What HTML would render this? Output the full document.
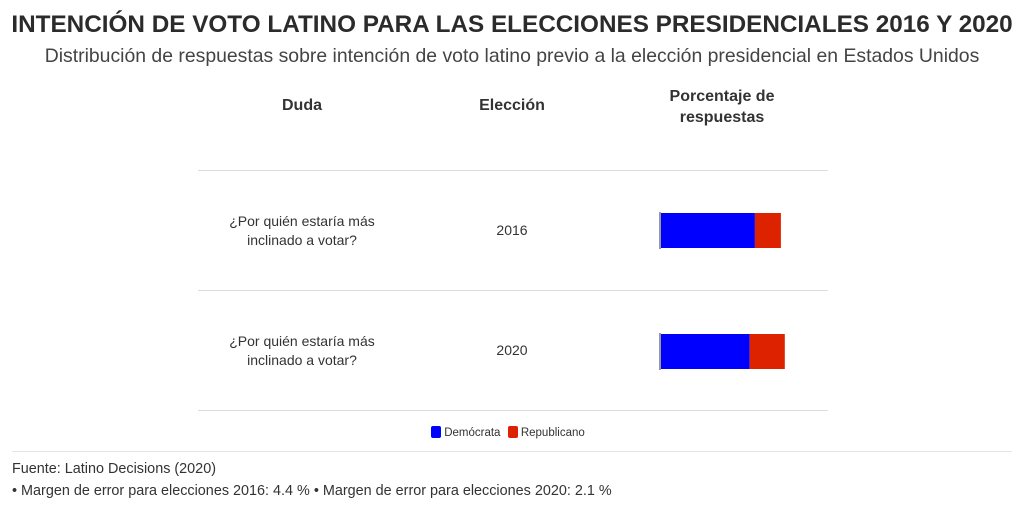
<!DOCTYPE html>
<html><head><meta charset="utf-8"><style>
body{margin:0;width:1024px;height:512px;background:#fff;font-family:"Liberation Sans",sans-serif;color:#333;position:relative;overflow:hidden}
.a{position:absolute;white-space:nowrap}
.c{text-align:center}
.hr{position:absolute;height:1px;background:#ddd}
</style></head><body>
<div class="a c" style="left:0;width:1024px;top:11px;font-size:24.3px;font-weight:bold;color:#2b2b2b;letter-spacing:0">INTENCIÓN DE VOTO LATINO PARA LAS ELECCIONES PRESIDENCIALES 2016 Y 2020</div>
<div class="a c" style="left:0;width:1024px;top:45px;font-size:19.4px;color:#444">Distribución de respuestas sobre intención de voto latino previo a la elección presidencial en Estados Unidos</div>
<div class="a c" style="left:202px;width:200px;top:97px;font-size:16px;font-weight:bold">Duda</div>
<div class="a c" style="left:412px;width:200px;top:97px;font-size:16px;font-weight:bold">Elección</div>
<div class="a c" style="left:622px;width:200px;top:86px;font-size:16px;font-weight:bold;line-height:21px">Porcentaje de<br>respuestas</div>
<div class="hr" style="left:198px;width:630px;top:170px"></div>
<div class="hr" style="left:198px;width:630px;top:290px"></div>
<div class="hr" style="left:198px;width:630px;top:410px"></div>
<div class="hr" style="left:12px;width:1000px;top:451px;background:#e5e5e5"></div>
<div class="a c" style="left:202px;width:200px;top:212px;font-size:14px;line-height:19px">¿Por quién estaría más<br>inclinado a votar?</div>
<div class="a c" style="left:412px;width:200px;top:222px;font-size:14px">2016</div>
<div class="a c" style="left:202px;width:200px;top:332px;font-size:14px;line-height:19px">¿Por quién estaría más<br>inclinado a votar?</div>
<div class="a c" style="left:412px;width:200px;top:342px;font-size:14px">2020</div>
<svg class="a" style="left:0;top:0" width="1024" height="512" id="svg"></svg>
<div class="a" style="left:431px;top:426px;font-size:11.5px;color:#333">
<span><span style="display:inline-block;width:10px;height:12px;background:#0000ff;border-radius:2px;vertical-align:-2px"></span> Demócrata</span>
<span style="margin-left:4px"><span style="display:inline-block;width:10px;height:12px;background:#dd2200;border-radius:2px;vertical-align:-2px"></span> Republicano</span>
</div>
<div class="a" style="left:12px;top:461px;font-size:14.4px;color:#333">Fuente: Latino Decisions (2020)</div>
<div class="a" style="left:12px;top:483px;font-size:14.4px;color:#333">• Margen de error para elecciones 2016: 4.4 % • Margen de error para elecciones 2020: 2.1 %</div>
<script>
const years=["2016","2020"];
const dem=[73,69];
const rep=[20,27];
const svg=document.getElementById('svg');
const NS='http://www.w3.org/2000/svg';
const x0=660, k=1.3;
const xs=v=>x0+v*k;
const rowY=[213,334];
years.forEach((y,i)=>{
  const ax=document.createElementNS(NS,'line');
  ax.setAttribute('x1',x0);ax.setAttribute('x2',x0);ax.setAttribute('y1',rowY[i]-1);ax.setAttribute('y2',rowY[i]+36);
  ax.setAttribute('stroke','#333');ax.setAttribute('stroke-width','1');
  
  
  svg.appendChild(ax);
  const b=document.createElementNS(NS,'rect');
  b.setAttribute('x',xs(0)+1);b.setAttribute('y',rowY[i]);b.setAttribute('width',xs(dem[i])-xs(0)-1);b.setAttribute('height',35);b.setAttribute('fill','#0000ff');
  
  
  svg.appendChild(b);
  const r=document.createElementNS(NS,'rect');
  r.setAttribute('x',xs(dem[i]));r.setAttribute('y',rowY[i]);r.setAttribute('width',xs(dem[i]+rep[i])-xs(dem[i]));r.setAttribute('height',35);r.setAttribute('fill','#dd2200');
  
  
  svg.appendChild(r);
});
</script>
</body></html>
